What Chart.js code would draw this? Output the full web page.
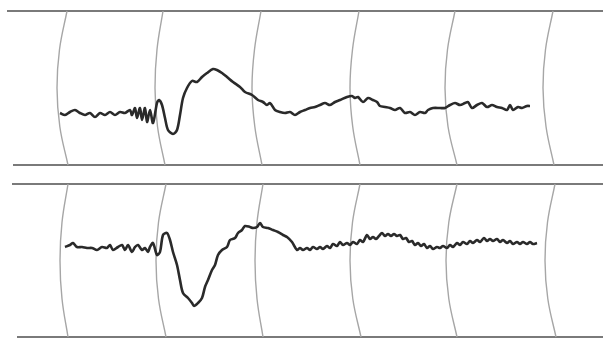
<!DOCTYPE html>
<html>
<head>
<meta charset="utf-8">
<script src="https://cdn.jsdelivr.net/npm/chart.js@4/dist/chart.umd.min.js"></script>
<style>
  html, body { margin: 0; padding: 0; background: #ffffff; }
  #wrap { position: relative; width: 603px; height: 339px; background: #ffffff; }
  canvas { position: absolute; left: 0; }
</style>
</head>
<body>
<div id="wrap">
  <canvas id="c1" width="603" height="170" style="top:0px"></canvas>
  <canvas id="c2" width="603" height="169" style="top:170px"></canvas>
</div>
<script>
// ---- Upper record: time (record units) and trace deflection (upward positive) ----
const topTime = [60,65,70,75,80,85,90,95,100,105,110,115,120,125,130,132,135,137,140,142,145,147,150,153,157,159,162,165,168,173,177,180,183,187,192,197,202,207,213,217,222,227,233,240,245,252,258,263,267,270,275,280,285,290,295,300,305,310,315,320,325,330,335,340,347,352,355,358,363,368,373,377,380,385,390,395,400,405,410,415,420,425,428,433,440,445,450,455,460,465,468,472,477,482,487,492,497,502,507,510,513,518,522,527,530];
const topAmp  = [0,-2,1,3,0,-2,0,-4,0,-2,1,-2,1,0,3,-2,5,-5,5,-7,5,-9,3,-10,10,13,8,-5,-17,-21,-17,-2,15,25,32,31,36,40,44,43,40,36,31,26,21,18,13,11,8,10,3,1,0,1,-2,1,3,5,6,8,10,8,11,13,16,17,15,16,11,15,13,11,7,6,5,3,5,0,1,-2,1,0,3,5,5,5,8,10,8,10,11,5,8,10,6,8,6,5,3,8,3,6,5,7,7];

// ---- Lower record ----
const botTime = [65,70,73,77,82,87,92,97,102,107,110,113,118,122,125,128,132,135,138,142,145,148,150,153,157,160,163,167,170,173,177,180,183,188,192,194,198,202,205,208,212,215,218,222,227,230,235,238,242,245,250,253,257,260,263,268,273,278,283,287,292,297,300,303,307,310,313,317,320,323,327,330,333,337,340,343,347,350,353,357,360,363,367,370,373,376,379,382,385,388,391,394,397,400,403,406,409,412,415,418,421,424,427,430,433,437,440,443,447,450,453,457,460,463,467,470,473,477,480,484,487,490,493,497,500,503,507,510,513,517,520,523,527,530,533,537];
const botAmp  = [0,2,4,0,0,-1,-1,-3,0,-1,2,-3,0,2,-3,2,-5,0,2,-3,-1,-5,0,4,-8,-5,12,14,7,-5,-18,-33,-46,-51,-56,-59,-56,-51,-40,-33,-23,-18,-8,-3,0,7,9,14,17,21,20,19,20,24,20,19,17,15,12,10,5,-3,-1,-3,-1,-3,0,-2,0,-2,1,-1,3,1,5,2,4,2,5,3,7,5,12,8,10,8,11,14,11,13,11,13,11,12,8,9,5,6,2,4,1,3,-1,1,-2,0,-1,1,-1,2,0,4,2,5,3,6,4,7,5,9,6,8,6,8,5,7,4,6,3,5,3,5,3,5,3,4];

// ---- Timing marks (curved minute marks): x at upper edge, quarter, bulge, three-quarter, lower edge ----
const topMarkUpper = [67,163,261,359,455,553];
const topMarkQ1    = [59.5,157,254.5,352.5,447.5,545.5];
const topMarkBulge = [57,155,252,350,445,543];
const topMarkQ3    = [59.8,157.5,254.8,352.7,448,546];
const topMarkLower = [68,165,262,360,457,554];
const botMarkUpper = [68,166,263,360,457,555];
const botMarkQ1    = [62,158.5,257,352.5,448.8,547.5];
const botMarkBulge = [60,156,255,350,446,545];
const botMarkQ3    = [62,158.5,257,352.8,448.8,547.8];
const botMarkLower = [68,166,263,361,457,556];

// ---- Record edges (deflection level of the paper's guide lines) ----
const topEdgeLevels = [102,-52];
const topEdgeStart  = [7,13];
const botEdgeLevels = [63,-90];
const botEdgeStart  = [12,17];
const edgeEnd = 603;

function zip(xs, ys) { return xs.map((x, i) => ({ x: x, y: ys[i] })); }

function buildChart(id, time, amp, marks, levels, starts, yMin, yMax) {
  const ds = [];
  ds.push({ data: zip(time, amp), borderColor: '#2a2a2a', borderWidth: 2.6, tension: 0.3 });
  const hi = levels[0], lo = levels[1];
  const span = hi - lo;
  const ys = [hi, hi - span * 0.25, hi - span * 0.5, hi - span * 0.75, lo];
  for (let i = 0; i < marks[0].length; i++) {
    ds.push({
      data: marks.map((m, k) => ({ x: m[i], y: ys[k] })),
      borderColor: '#a6a6a6', borderWidth: 1.4, tension: 0.4
    });
  }
  for (let i = 0; i < levels.length; i++) {
    ds.push({
      data: [{ x: starts[i], y: levels[i] }, { x: edgeEnd, y: levels[i] }],
      borderColor: '#7a7a7a', borderWidth: 1.8, tension: 0
    });
  }
  return new Chart(document.getElementById(id), {
    type: 'line',
    data: { datasets: ds },
    options: {
      responsive: false,
      animation: false,
      events: [],
      layout: { padding: 0 },
      elements: { point: { radius: 0 } },
      datasets: { line: { clip: false, fill: false } },
      plugins: { legend: { display: false }, tooltip: { enabled: false } },
      scales: {
        x: { type: 'linear', min: 0, max: 603, display: false },
        y: { type: 'linear', min: yMin, max: yMax, display: false }
      }
    }
  });
}

buildChart('c1', topTime, topAmp,
  [topMarkUpper, topMarkQ1, topMarkBulge, topMarkQ3, topMarkLower],
  topEdgeLevels, topEdgeStart, -57, 113);
buildChart('c2', botTime, botAmp,
  [botMarkUpper, botMarkQ1, botMarkBulge, botMarkQ3, botMarkLower],
  botEdgeLevels, botEdgeStart, -92, 77);
</script>
</body>
</html>
